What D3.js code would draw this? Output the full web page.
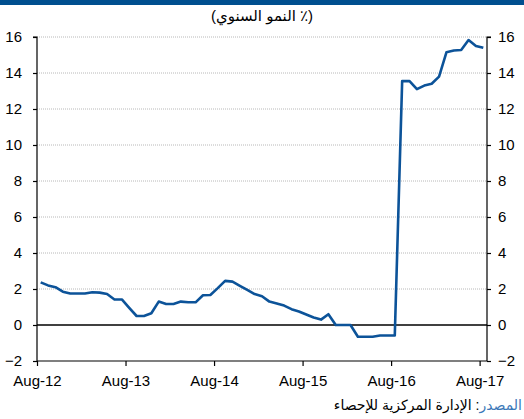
<!DOCTYPE html>
<html>
<head>
<meta charset="utf-8">
<script src="https://cdn.jsdelivr.net/npm/d3@7"></script>
<style>
  body { margin: 0; background: #fff; }
  #wrap { position: relative; width: 524px; height: 419px; overflow: hidden; }
  #chart { position: absolute; left: 0; top: 0; }
  .title { position: absolute; left: 0; width: 524px; top: 7px; text-align: center;
           font: 15px "Liberation Sans", "DejaVu Sans", sans-serif; color: #000; }
  .source { position: absolute; right: 2px; top: 397px;
            font: 14px "Liberation Sans", "DejaVu Sans", sans-serif; color: #000; }
  .source .lbl { color: #3b78b8; }
  .axis text { font: 15px "Liberation Sans", Arial, sans-serif; fill: #000; }
</style>
</head>
<body>
<div id="wrap">
  <svg id="chart" width="524" height="419"></svg>
  <div class="title" dir="rtl">(٪ النمو السنوي)</div>
  <div class="source" dir="rtl"><span class="lbl">المصدر</span>: الإدارة المركزية للإحصاء</div>
</div>
<script>
// monthly annual growth, Aug-12 .. Aug-17
const months = d3.range(61);
const growth = [
  2.37, 2.2, 2.1, 1.85, 1.75, 1.75, 1.75, 1.82, 1.8, 1.72,
  1.42, 1.42, 0.95, 0.5, 0.5, 0.65, 1.3, 1.17, 1.17, 1.3,
  1.26, 1.26, 1.65, 1.67, 2.05, 2.45, 2.41, 2.18, 1.95, 1.72,
  1.6, 1.3, 1.2, 1.08, 0.88, 0.75, 0.58, 0.42, 0.3, 0.6,
  0.0, 0.0, 0.0, -0.65, -0.65, -0.65, -0.58, -0.58, -0.58, 13.55,
  13.55, 13.1, 13.3, 13.4, 13.8, 15.15, 15.25, 15.28, 15.83, 15.5,
  15.4
];
const xTickPos = [0, 12, 24, 36, 48, 60];
const xTickLabels = ['Aug-12', 'Aug-13', 'Aug-14', 'Aug-15', 'Aug-16', 'Aug-17'];
const yTicks = [-2, 0, 2, 4, 6, 8, 10, 12, 14, 16];

const svg = d3.select('#chart');
const mLeft = 37, mRight = 487, mTop = 37, mBottom = 361;

// top band
svg.append('rect').attr('x', 0).attr('y', 0).attr('width', 524).attr('height', 5).attr('fill', '#004f8f');

const x = d3.scaleLinear().domain([0, 61]).range([mLeft, mRight]);
const y = d3.scaleLinear().domain([-2, 16]).range([mBottom, mTop]);

// grid
svg.append('g')
    .selectAll('line')
    .data(yTicks.filter(d => d > 0))
    .enter()
    .append('line')
    .attr('x1', mLeft).attr('x2', mRight)
    .attr('y1', d => y(d)).attr('y2', d => y(d))
    .attr('stroke', '#b8b8b8')
    .attr('stroke-width', 1)
    .attr('stroke-dasharray', '1,1');

// axes
const yl = svg.append('g').attr('class', 'axis')
    .attr('transform', `translate(${mLeft},0)`)
    .call(d3.axisLeft(y).tickValues(yTicks).tickSize(4).tickPadding(11));
const yr = svg.append('g').attr('class', 'axis')
    .attr('transform', `translate(${mRight},0)`)
    .call(d3.axisRight(y).tickValues(yTicks).tickSize(4).tickPadding(7));
const xa = svg.append('g').attr('class', 'axis')
    .attr('transform', `translate(0,${mBottom})`)
    .call(d3.axisBottom(x).tickValues(xTickPos).tickFormat((d, i) => xTickLabels[i]).tickSize(5).tickPadding(9));

[yl, yr, xa].forEach(g => {
    g.select('.domain').attr('stroke', '#000').attr('stroke-width', 1.2);
    g.selectAll('.tick line').attr('stroke', '#000').attr('stroke-width', 1.2);
});
yl.select('.domain').attr('d', `M-4,${mTop}H0V${mBottom}`);
yr.select('.domain').attr('d', `M4,${mTop}H0V${mBottom}`);
xa.select('.domain').attr('d', `M${mLeft},0H${mRight}`);

// zero line
svg.append('line')
    .attr('x1', mLeft).attr('x2', mRight)
    .attr('y1', y(0)).attr('y2', y(0))
    .attr('stroke', '#000').attr('stroke-width', 1.3);

// series
const line = d3.line()
    .x((d, i) => x(months[i] + 0.5))
    .y(d => y(d));

svg.append('path')
    .datum(growth)
    .attr('d', line)
    .attr('fill', 'none')
    .attr('stroke', '#0c5399')
    .attr('stroke-width', 2.6)
    .attr('stroke-linejoin', 'round');
</script>
</body>
</html>
